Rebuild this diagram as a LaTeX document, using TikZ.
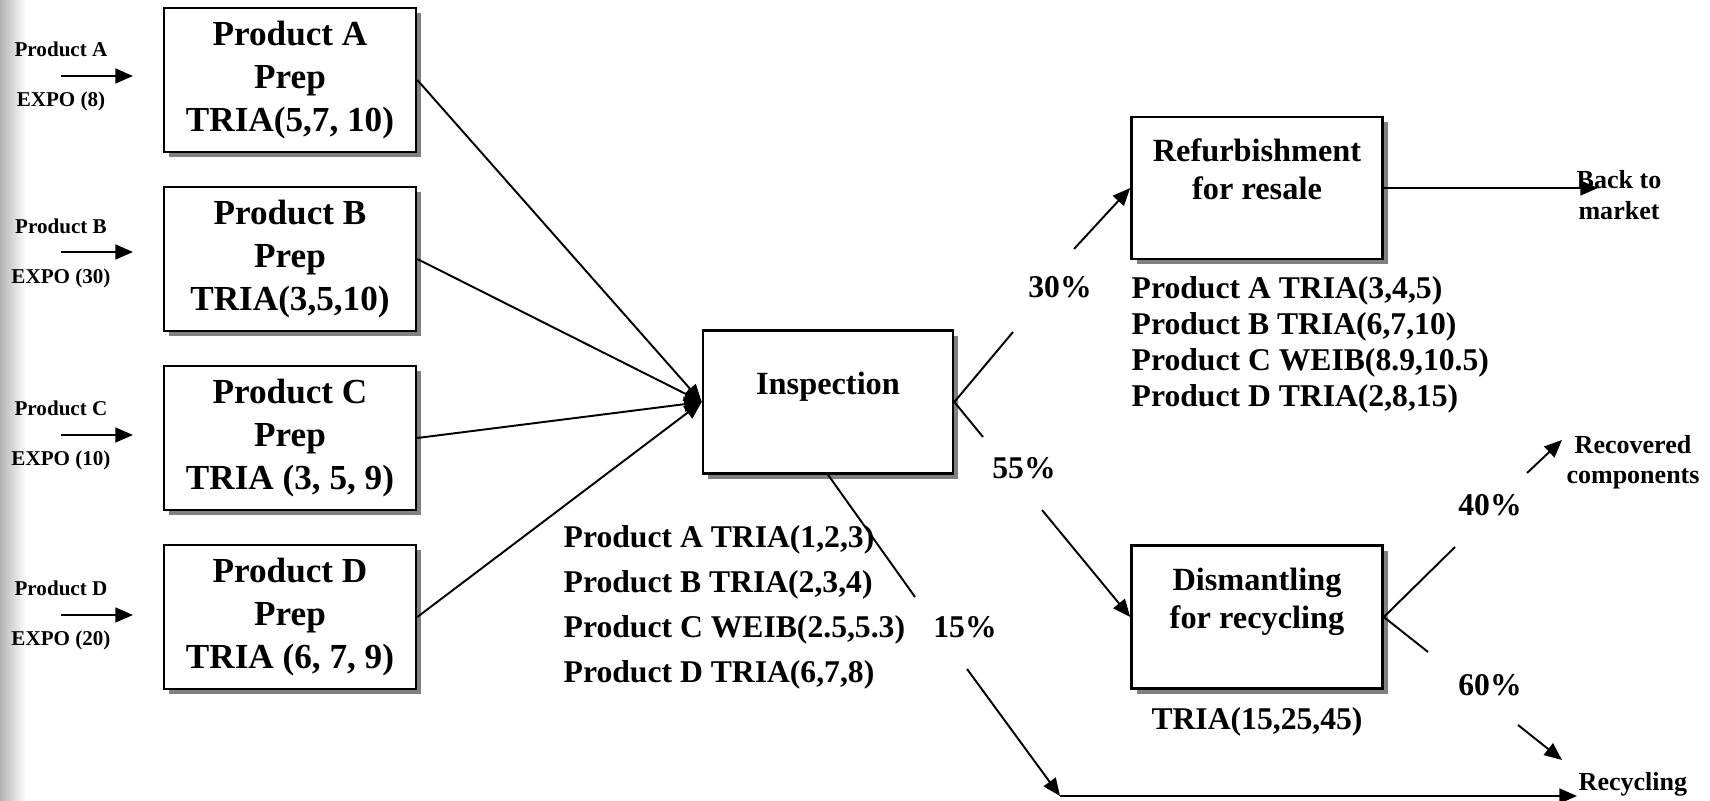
\documentclass[tikz,border=0pt]{standalone}
\usepackage{fontspec}
\setmainfont{Liberation Serif}
\usetikzlibrary{arrows.meta,shadows}

\begin{document}
\begin{tikzpicture}[x=0.01cm, y=-0.01cm,
    prep/.style = {draw, line width=0.7pt, fill=white, minimum width=2.52cm, minimum height=1.44cm, inner sep=0pt, align=center,
      font=\fontsize{10}{12.2}\selectfont\bfseries,
      drop shadow={shadow xshift=1.5pt, shadow yshift=-1.5pt, fill=black!50, opacity=1}},
    stage/.style = {prep, minimum width=2.51cm, minimum height=1.43cm, font=\fontsize{9.2}{10.8}\selectfont\bfseries},
    times/.style = {align=left, inner sep=0pt, font=\fontsize{9}{12.8}\selectfont\bfseries},
    pct/.style = {inner sep=0pt, font=\fontsize{9}{10}\selectfont\bfseries},
    arrival/.style = {inner sep=0pt, font=\fontsize{6}{7}\selectfont\bfseries},
    sink/.style = {inner sep=0pt, align=center, font=\fontsize{7.4}{8.6}\selectfont\bfseries},
    link/.style = {line width=0.55pt},
    flow/.style = {link, -{Triangle[length=5pt,width=4.2pt]}}]

    \useasboundingbox (0,0) rectangle (1710,801);
    \shade[left color=black!30, right color=white] (0,0) rectangle (26,801);

    % preparation of the four products
    \node[prep](prepA) at (290,80) {Product A\\Prep\\TRIA(5,7, 10)};
    \node[prep](prepB) at (290,259) {Product B\\Prep\\TRIA(3,5,10)};
    \node[prep](prepC) at (290,438) {Product C\\Prep\\TRIA (3, 5, 9)};
    \node[prep](prepD) at (290,617) {Product D\\Prep\\TRIA (6, 7, 9)};

    % arrivals
    \node[arrival](arrA) at (61,49) {Product A};
    \node[arrival](expoA) at (61,101) {EXPO (8)};
    \node[arrival](arrB) at (61,226) {Product B};
    \node[arrival](expoB) at (61,278) {EXPO (30)};
    \node[arrival](arrC) at (61,408) {Product C};
    \node[arrival](expoC) at (61,460) {EXPO (10)};
    \node[arrival](arrD) at (61,588) {Product D};
    \node[arrival](expoD) at (61,640) {EXPO (20)};

    \coordinate (inA) at (61,76);   \coordinate (tipA) at (133,76);
    \coordinate (inB) at (61,252);  \coordinate (tipB) at (133,252);
    \coordinate (inC) at (61,435);  \coordinate (tipC) at (133,435);
    \coordinate (inD) at (61,615);  \coordinate (tipD) at (133,615);
    \draw[flow] (inA) -- (tipA);
    \draw[flow] (inB) -- (tipB);
    \draw[flow] (inC) -- (tipC);
    \draw[flow] (inD) -- (tipD);

    % inspection
    \node[stage, minimum width=2.50cm](insp) at (828,402) {Inspection\\~};
    \node[times, anchor=west](inspTimes) at (563,607) {Product A TRIA(1,2,3)\\Product B TRIA(2,3,4)\\Product C WEIB(2.5,5.3)\\Product D TRIA(6,7,8)};

    \draw[flow] (prepA.east) -- (insp.west);
    \draw[flow] (prepB.east) -- (insp.west);
    \draw[flow] (prepC.east) -- (insp.west);
    \draw[flow] (prepD.east) -- (insp.west);

    % refurbishment
    \node[stage, minimum height=1.42cm](refurb) at (1257,188) {Refurbishment\\for resale\\~};
    \node[times, anchor=west, font=\fontsize{9}{10.3}\selectfont\bfseries](refurbTimes) at (1131,345) {Product A TRIA(3,4,5)\\Product B TRIA(6,7,10)\\Product C WEIB(8.9,10.5)\\Product D TRIA(2,8,15)};
    \node[sink](market) at (1619,195) {Back to\\market};
    \coordinate (mkt) at (1598,188);

    % dismantling
    \node[stage](dism) at (1257,617) {Dismantling\\for recycling\\~};
    \node[times](dismTime) at (1257,722) {TRIA(15,25,45)};
    \node[sink](recovered) at (1633,462) {Recovered\\components};
    \node[sink, anchor=west](recycling) at (1578,784) {Recycling};

    % routing percentages
    \node[pct](p30) at (1060,287) {30\%};
    \node[pct](p55) at (1024,468) {55\%};
    \node[pct](p15) at (965,627) {15\%};
    \node[pct](p40) at (1490,505) {40\%};
    \node[pct](p60) at (1490,685) {60\%};

    \coordinate (r1) at (1013,332);  \coordinate (r2) at (1074,249);
    \coordinate (d1) at (983,437);   \coordinate (d2) at (1042,510);
    \coordinate (c1) at (915,597);   \coordinate (c2) at (967,669);
    \coordinate (corner) at (1060,796);
    \coordinate (recycTip) at (1577,796);
    \coordinate (k1) at (1455,547);  \coordinate (k2) at (1527,473);  \coordinate (k3) at (1562,440);
    \coordinate (s1) at (1428,652);  \coordinate (s2) at (1518,725);  \coordinate (s3) at (1562,760);

    \draw[link] (insp.east) -- (r1);
    \draw[flow] (r2) -- (refurb.west);
    \draw[link] (insp.east) -- (d1);
    \draw[flow] (d2) -- (dism.west);
    \draw[link] (insp.south) -- (c1);
    \draw[flow] (c2) -- (corner);
    \draw[flow] (corner) -- (recycTip);

    \draw[flow] (refurb.east) -- (mkt);

    \draw[link] (dism.east) -- (k1);
    \draw[flow] (k2) -- (k3);
    \draw[link] (dism.east) -- (s1);
    \draw[flow] (s2) -- (s3);
\end{tikzpicture}
\end{document}
